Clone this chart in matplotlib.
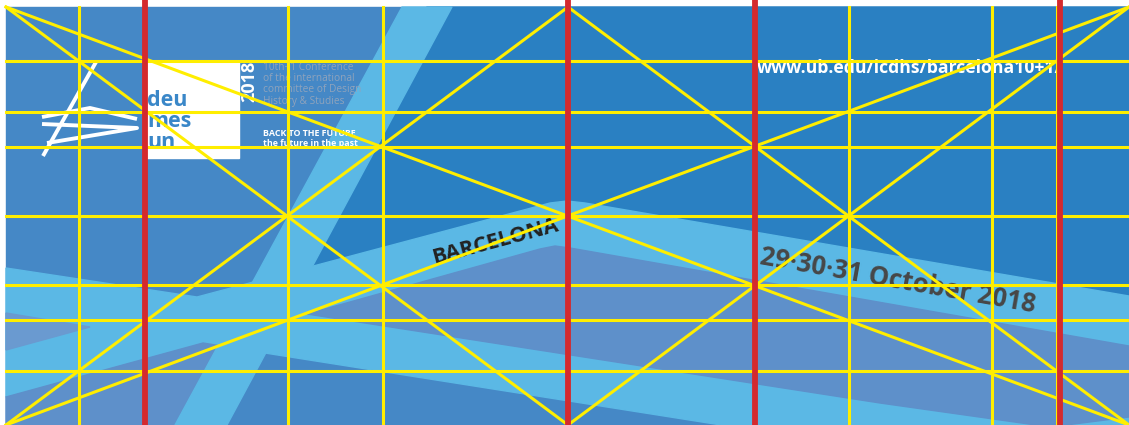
import matplotlib.pyplot as plt
from matplotlib.patches import Polygon

# canvas in pixels (y grows downward)
W, H = 1129, 425
left, top = 6, 7

# guide grid
h_lines = [61, 112, 147, 216, 285, 320, 371]
v_lines = [79, 145, 288, 383, 568, 755, 849, 992, 1057]
red_lines = [145, 568, 755, 1060]
mid_x = 568

# background shapes
dark_area = [(427, 7), (1129, 7), (1129, 296), (585, 203), (567, 201), (550, 203), (290, 272)]
light_band = [(6, 268), (197, 297), (550, 203), (567, 201), (585, 203), (1129, 296),
              (1129, 425), (721, 425), (265, 353), (203, 343), (6, 397)]
mauve_wedge = [(307, 314), (540, 249), (555, 246), (570, 248), (1129, 346),
               (1129, 417), (1050, 427), (880, 403)]
mauve_corner = [(6, 397), (203, 343), (240, 349), (200, 425), (6, 425)]
mauve_tip = [(6, 313), (90, 327), (6, 350)]
stripe = [(402, 7), (452, 7), (227, 425), (175, 425)]

# logo strokes
logo_strokes = [
    [(96, 62), (43, 156)],
    [(42, 117), (90, 108), (137, 119)],
    [(42, 124), (137, 128), (47, 143)],
]
logo_words = ["deu", "més", "un"]
info_lines = ["10th+1 Conference", "of the international",
              "committee of Design", "History & Studies"]
motto = ["BACK TO THE FUTURE", "the future in the past"]

fig = plt.figure(figsize=(W / 100, H / 100), dpi=100)
ax = fig.add_axes([0, 0, 1, 1])
ax.set_xlim(0, W)
ax.set_ylim(H, 0)
ax.axis("off")

ax.add_patch(plt.Rectangle((left, top), W - left, H - top, color="#4588C6", zorder=0))
ax.add_patch(Polygon(dark_area, closed=True, color="#2A80C2", zorder=1))
ax.add_patch(Polygon(light_band, closed=True, color="#5BB8E5", zorder=2))
ax.add_patch(Polygon(mauve_wedge, closed=True, color="#5E90CA", zorder=3))
ax.add_patch(Polygon(mauve_corner, closed=True, color="#5E90CA", zorder=3))
ax.add_patch(Polygon(mauve_tip, closed=True, color="#6A9AD0", zorder=3))
ax.add_patch(Polygon(stripe, closed=True, color="#5BB8E5", zorder=4))

# logo block
ax.add_patch(plt.Rectangle((145, 61), 94, 97, color="white", zorder=5))
for s in logo_strokes:
    xs, ys = zip(*s)
    ax.plot(xs, ys, color="white", lw=2.8, solid_capstyle="butt", zorder=5)
for i, w in enumerate(logo_words):
    ax.text(147, 106 + i * 21, w, color="#3A87C8", fontsize=15.5, fontweight="bold",
            family="Open Sans", va="baseline", ha="left", zorder=6)
ax.text(249, 61, "2018", color="white", fontsize=13, fontweight="bold", family="Open Sans",
        rotation=90, ha="center", va="top", zorder=6)
for i, t in enumerate(info_lines):
    ax.text(263, 70 + i * 11.2, t, color="#8FA3BC", fontsize=7.3, family="Open Sans",
            va="baseline", ha="left", zorder=6)
for i, t in enumerate(motto):
    ax.text(263, 136 + i * 10, t, color="white", fontsize=6.4, fontweight="bold",
            family="Open Sans", va="baseline", ha="left", zorder=6)

ax.text(757, 68, "www.ub.edu/icdhs/barcelona10+1/", color="white", fontsize=12.7,
        fontweight="bold", family="Open Sans", ha="left", va="center", zorder=6)
ax.text(495, 242, "BARCELONA", color="#222222", fontsize=15.5, fontweight="bold",
        family="Open Sans", rotation=15, rotation_mode="anchor", ha="center", va="center", zorder=6)
ax.text(898, 281, "29·30·31 October 2018", color="#474747", fontsize=18.5, fontweight="bold",
        family="Open Sans", rotation=-10, rotation_mode="anchor", ha="center", va="center", zorder=6)

# yellow armature
yl = dict(color="#FFEE00", lw=2.2, zorder=7)
for y in h_lines:
    ax.plot([left, W], [y, y], **yl)
for x in v_lines:
    ax.plot([x, x], [top, H], **yl)
diagonals = [
    [(left, top), (W, H)], [(left, H), (W, top)],
    [(left, top), (mid_x, H)], [(W, top), (mid_x, H)],
    [(left, H), (mid_x, top)], [(W, H), (mid_x, top)],
]
for d in diagonals:
    xs, ys = zip(*d)
    ax.plot(xs, ys, **yl)

for x in red_lines:
    ax.plot([x, x], [0, H], color="#D42A2E", lw=4.2, zorder=8)

fig.savefig("out.png", dpi=100, facecolor="white")
